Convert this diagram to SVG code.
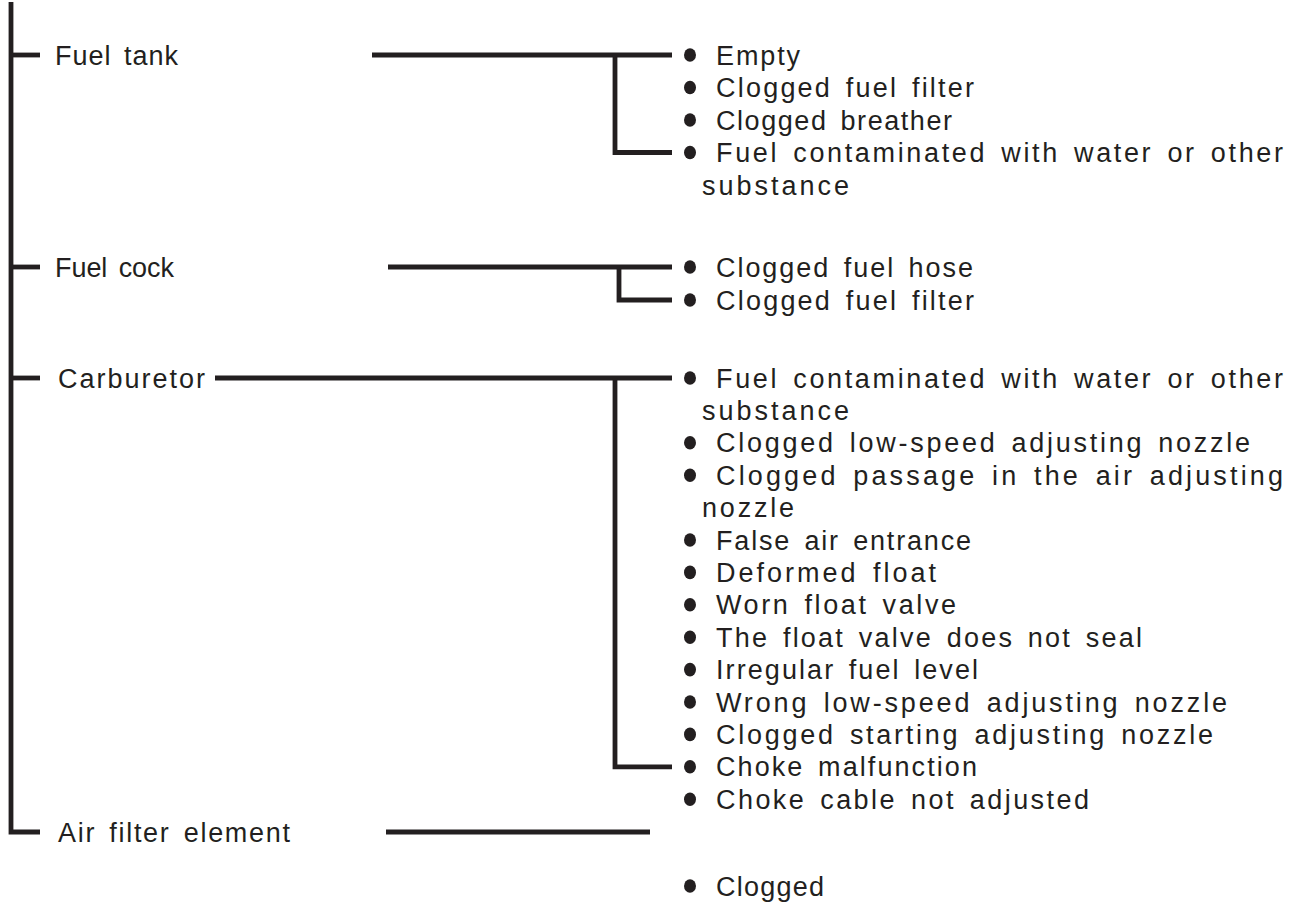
<svg xmlns="http://www.w3.org/2000/svg" width="1298" height="917" viewBox="0 0 1298 917">
<style>
  .ln { fill: none; stroke: #231f20; stroke-width: 4.8; stroke-linecap: butt; stroke-linejoin: miter; }
  .t { font-family: "Liberation Sans", Arial, sans-serif; font-size: 27px; fill: #231f20; word-spacing: 4px; }
  .b { fill: #231f20; }
</style>
<rect width="1298" height="917" fill="#ffffff"/>
<defs>
  <ellipse id="dot" cx="0" cy="0" rx="6" ry="6.8" class="b"/>
</defs>
<g id="connectors">
  <path class="ln" d="M11,2 V832 H40"/>
  <path class="ln" d="M11,55 H40"/>
  <path class="ln" d="M11,267 H40"/>
  <path class="ln" d="M11,378 H40"/>
  <path class="ln" d="M372,55 H672"/>
  <path class="ln" d="M615,55 V152.5 H672"/>
  <path class="ln" d="M388,267 H672"/>
  <path class="ln" d="M619,267 V300 H672"/>
  <path class="ln" d="M215,378 H672"/>
  <path class="ln" d="M615,378 V766.8 H672"/>
  <path class="ln" d="M386,832 H650"/>
</g>
<g id="node-fuel-tank">
  <text class="t" x="55" y="64.5" textLength="123" lengthAdjust="spacing">Fuel tank</text>
</g>
<g id="causes-fuel-tank">
  <use href="#dot" x="690" y="55"/>
  <text class="t" x="716" y="64.5" textLength="84" lengthAdjust="spacing">Empty</text>
  <use href="#dot" x="690" y="87.5"/>
  <text class="t" x="716" y="97" textLength="258" lengthAdjust="spacing">Clogged fuel filter</text>
  <use href="#dot" x="690" y="120"/>
  <text class="t" x="716" y="129.5" textLength="236" lengthAdjust="spacing">Clogged breather</text>
  <use href="#dot" x="690" y="152.5"/>
  <text class="t" x="716" y="162" textLength="567" lengthAdjust="spacing">Fuel contaminated with water or other</text>
  <text class="t" x="702" y="194.5" textLength="147" lengthAdjust="spacing">substance</text>
</g>
<g id="node-fuel-cock">
  <text class="t" x="55" y="276.5" textLength="119" lengthAdjust="spacing">Fuel cock</text>
</g>
<g id="causes-fuel-cock">
  <use href="#dot" x="690" y="267"/>
  <text class="t" x="716" y="276.5" textLength="257" lengthAdjust="spacing">Clogged fuel hose</text>
  <use href="#dot" x="690" y="300"/>
  <text class="t" x="716" y="309.5" textLength="258" lengthAdjust="spacing">Clogged fuel filter</text>
</g>
<g id="node-carburetor">
  <text class="t" x="58" y="387.5" textLength="147" lengthAdjust="spacing">Carburetor</text>
</g>
<g id="causes-carburetor">
  <use href="#dot" x="690" y="378"/>
  <text class="t" x="716" y="387.5" textLength="567" lengthAdjust="spacing">Fuel contaminated with water or other</text>
  <text class="t" x="702" y="419.9" textLength="147" lengthAdjust="spacing">substance</text>
  <use href="#dot" x="690" y="442.8"/>
  <text class="t" x="716" y="452.3" textLength="534" lengthAdjust="spacing">Clogged low-speed adjusting nozzle</text>
  <use href="#dot" x="690" y="475.2"/>
  <text class="t" x="716" y="484.7" textLength="567" lengthAdjust="spacing">Clogged passage in the air adjusting</text>
  <text class="t" x="702" y="517.1" textLength="92" lengthAdjust="spacing">nozzle</text>
  <use href="#dot" x="690" y="540"/>
  <text class="t" x="716" y="549.5" textLength="255" lengthAdjust="spacing">False air entrance</text>
  <use href="#dot" x="690" y="572.4"/>
  <text class="t" x="716" y="581.9" textLength="220" lengthAdjust="spacing">Deformed float</text>
  <use href="#dot" x="690" y="604.8"/>
  <text class="t" x="716" y="614.3" textLength="240" lengthAdjust="spacing">Worn float valve</text>
  <use href="#dot" x="690" y="637.2"/>
  <text class="t" x="716" y="646.7" textLength="426" lengthAdjust="spacing">The float valve does not seal</text>
  <use href="#dot" x="690" y="669.6"/>
  <text class="t" x="716" y="679.1" textLength="262" lengthAdjust="spacing">Irregular fuel level</text>
  <use href="#dot" x="690" y="702"/>
  <text class="t" x="716" y="711.5" textLength="511" lengthAdjust="spacing">Wrong low-speed adjusting nozzle</text>
  <use href="#dot" x="690" y="734.4"/>
  <text class="t" x="716" y="743.9" textLength="497" lengthAdjust="spacing">Clogged starting adjusting nozzle</text>
  <use href="#dot" x="690" y="766.8"/>
  <text class="t" x="716" y="776.3" textLength="261" lengthAdjust="spacing">Choke malfunction</text>
  <use href="#dot" x="690" y="799.2"/>
  <text class="t" x="716" y="808.7" textLength="373" lengthAdjust="spacing">Choke cable not adjusted</text>
</g>
<g id="node-air-filter">
  <text class="t" x="58" y="841.5" textLength="232" lengthAdjust="spacing">Air filter element</text>
</g>
<g id="causes-air-filter">
  <use href="#dot" x="690" y="886"/>
  <text class="t" x="716" y="895.5" textLength="108" lengthAdjust="spacing">Clogged</text>
</g>
</svg>
